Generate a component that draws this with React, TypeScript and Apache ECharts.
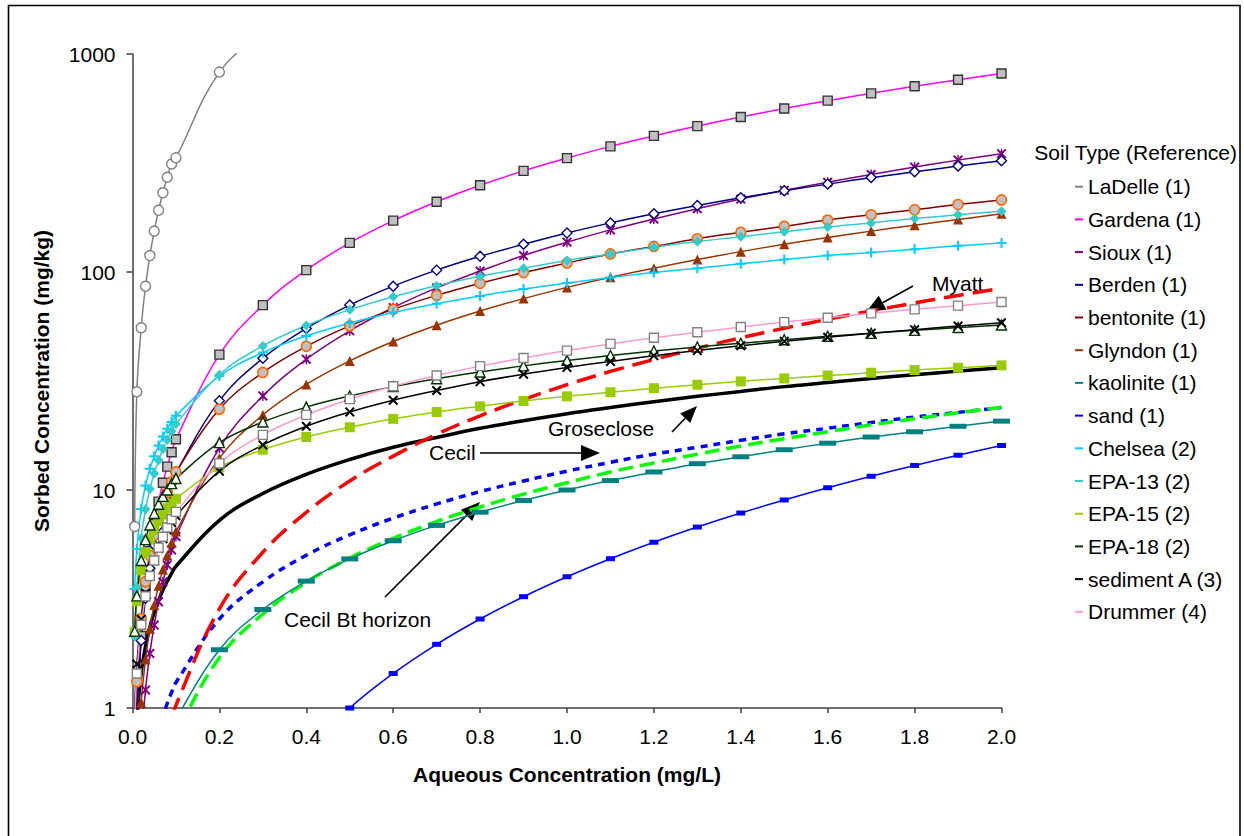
import { useEffect, useRef } from "react";
import * as echarts from "echarts";

const FONT = "'Liberation Sans', Arial, Helvetica, sans-serif";

// Aqueous concentrations (mg/L) at which each isotherm is plotted
const CONC = [
  0.005, 0.01, 0.02, 0.03, 0.04, 0.05, 0.06, 0.07, 0.08, 0.09, 0.1,
  0.2, 0.3, 0.4, 0.5, 0.6, 0.7, 0.8, 0.9, 1.0, 1.1, 1.2, 1.3, 1.4, 1.5, 1.6, 1.7, 1.8, 1.9, 2.0,
];

// Sorbed concentrations (mg/kg), one entry per CONC value (null = not plotted)
const LADELLE = [6.8, 28.2, 55.5, 86, 119, 154, 192, 231, 272, 313, 334, 826, 1250, 1800,
  null, null, null, null, null, null, null, null, null, null, null, null, null, null, null, null];
const GARDENA = [0.36, 0.88, 2.14, 3.61, 5.24, 6.98, 8.84, 10.8, 12.8, 14.9, 17.1,
  41.8, 70.5, 102, 136, 172, 210, 250, 291, 333, 377, 421, 467, 514, 562, 611, 660, 711, 762, 814];
const SIOUX = [0.11, 0.27, 0.7, 1.21, 1.78, 2.4, 3.07, 3.78, 4.53, 5.31, 6.12,
  15.6, 27.0, 39.8, 53.7, 68.7, 84.6, 101, 119, 137, 156, 175, 195, 216, 237, 258, 280, 303, 326, 349];
const BERDEN = [0.44, 0.95, 2.04, 3.19, 4.38, 5.6, 6.84, 8.1, 9.38, 10.7, 12.0,
  25.7, 40.2, 55.1, 70.5, 86.1, 102, 118, 134, 151, 168, 185, 202, 219, 236, 253, 271, 288, 306, 324];
const BENTONITE = [0.68, 1.32, 2.57, 3.8, 5.01, 6.2, 7.38, 8.56, 9.74, 10.9, 12.1,
  23.5, 34.6, 45.6, 56.6, 67.4, 78.1, 88.8, 99.4, 110, 121, 131, 142, 152, 162, 173, 183, 193, 204, 214];
const GLYNDON = [0.22, 0.49, 1.06, 1.67, 2.31, 2.97, 3.64, 4.32, 5.02, 5.73, 6.45,
  14.0, 22.1, 30.5, 39.1, 48.0, 57.0, 66.2, 75.5, 85, 94.6, 104, 114, 124, 134, 144, 154, 164, 174, 185];
const KAOLINITE = [null, null, null, null, null, 0.43, 0.52, 0.61, 0.71, 0.8, 0.89,
  1.85, 2.83, 3.82, 4.83, 5.85, 6.88, 7.91, 8.95, 10.0, 11.05, 12.1, 13.2, 14.2, 15.3, 16.4, 17.5, 18.5, 19.6, 20.7];
const SAND = [null, null, null, null, null, null, null, null, null, null, null,
  0.16, 0.36, 0.64, 1.0, 1.44, 1.96, 2.56, 3.24, 4.0, 4.84, 5.76, 6.76, 7.84, 9.0, 10.24, 11.56, 12.96, 14.44, 16.0];
const CHELSEA = [3.51, 5.36, 8.19, 10.5, 12.5, 14.3, 16.0, 17.6, 19.1, 20.5, 21.9,
  33.3, 42.7, 50.9, 58.3, 65.2, 71.6, 77.7, 83.5, 89, 94.3, 99.5, 104, 109, 114, 119, 123, 127, 132, 136];
const EPA13 = [2.13, 3.57, 6.01, 8.15, 10.1, 11.9, 13.7, 15.4, 17.0, 18.6, 20.1,
  33.8, 45.8, 56.8, 67.2, 77.0, 86.5, 95.6, 104, 113, 121, 130, 138, 145, 153, 161, 168, 176, 183, 190];
const EPA15 = [2.23, 3.09, 4.28, 5.18, 5.93, 6.58, 7.17, 7.71, 8.21, 8.68, 9.12,
  12.7, 15.3, 17.5, 19.4, 21.2, 22.8, 24.2, 25.6, 26.9, 28.1, 29.3, 30.4, 31.5, 32.5, 33.5, 34.5, 35.5, 36.4, 37.3];
const EPA18 = [2.25, 3.27, 4.75, 5.92, 6.91, 7.8, 8.6, 9.35, 10.0, 10.7, 11.3,
  16.5, 20.5, 24.0, 27.0, 29.8, 32.4, 34.8, 37.1, 39.3, 41.4, 43.4, 45.3, 47.1, 48.9, 50.7, 52.3, 54.0, 55.6, 57.1];
const SEDIMENT_A = [0.99, 1.59, 2.55, 3.36, 4.09, 4.76, 5.39, 5.98, 6.55, 7.1, 7.62,
  12.2, 16.1, 19.6, 22.8, 25.8, 28.6, 31.4, 34.0, 36.5, 38.9, 41.3, 43.6, 45.9, 48.1, 50.2, 52.4, 54.4, 56.5, 58.5];
const DRUMMER = [0.86, 1.44, 2.41, 3.25, 4.03, 4.75, 5.44, 6.1, 6.73, 7.34, 7.94,
  13.25, 17.9, 22.1, 26.1, 29.9, 33.5, 37.0, 40.3, 43.6, 46.8, 49.9, 52.9, 55.9, 58.9, 61.7, 64.6, 67.4, 70.1, 72.8];

// Site isotherms drawn as plain curves
const MYATT = [null, null, null, null, null, 0.37, 0.49, 0.61, 0.74, 0.88, 1.03,
  2.85, 5.18, 7.9, 11.0, 14.3, 18.0, 21.9, 26.0, 30.4, 35.0, 39.7, 44.7, 49.9, 55.2, 60.7, 66.3, 72.1, 78.1, 84.2];
const GROSECLOSE = [0.55, 0.89, 1.45, 1.92, 2.35, 2.75, 3.12, 3.48, 3.82, 4.15, 4.47,
  7.26, 9.64, 11.8, 13.8, 15.7, 17.4, 19.2, 20.8, 22.4, 23.9, 25.4, 26.9, 28.3, 29.8, 31.1, 32.5, 33.8, 35.1, 36.4];
const CECIL = [null, null, null, null, null, 0.67, 0.8, 0.92, 1.05, 1.18, 1.31,
  2.56, 3.79, 5.02, 6.23, 7.43, 8.63, 9.83, 11.0, 12.2, 13.4, 14.6, 15.7, 16.9, 18.1, 19.2, 20.4, 21.6, 22.7, 23.9];
const CECIL_BT = [null, null, null, null, null, 0.34, 0.42, 0.51, 0.59, 0.68, 0.76,
  1.7, 2.7, 3.77, 4.87, 6.0, 7.17, 8.36, 9.57, 10.8, 12.1, 13.3, 14.6, 15.9, 17.2, 18.5, 19.9, 21.2, 22.6, 24.0];

const Y_TICKS = [1, 10, 100, 1000];

// marker outlines
const PLUS = "path://M4,0H6V4H10V6H6V10H4V6H0V4H4Z";
const CROSS = "path://M1.4,0L5,3.6L8.6,0L10,1.4L6.4,5L10,8.6L8.6,10L5,6.4L1.4,10L0,8.6L3.6,5L0,1.4Z";
const STAR = "path://M1.4,0L5,3.6L8.6,0L10,1.4L6.4,5L10,8.6L8.6,10L5,6.4L1.4,10L0,8.6L3.6,5L0,1.4Z M4.3,0H5.7V10H4.3Z";

type Soil = {
  name: string;
  values: (number | null)[];
  color: string;
  symbol: string;
  size: number | number[];
  fill: string;
  border?: string;
  bw?: number;
};

const SOILS: Soil[] = [
  { name: "LaDelle (1)", values: LADELLE, color: "#808080", symbol: "circle", size: 10, fill: "#ffffff", border: "#808080", bw: 1.4 },
  { name: "Gardena (1)", values: GARDENA, color: "#FF00FF", symbol: "rect", size: 9, fill: "#C0C0C0", border: "#333333", bw: 1.4 },
  { name: "Sioux (1)", values: SIOUX, color: "#800080", symbol: STAR, size: 10, fill: "#800080" },
  { name: "Berden (1)", values: BERDEN, color: "#000080", symbol: "diamond", size: 10, fill: "#ffffff", border: "#000080", bw: 1.4 },
  { name: "bentonite (1)", values: BENTONITE, color: "#800000", symbol: "circle", size: 10, fill: "#C0C0C0", border: "#FF6600", bw: 1.6 },
  { name: "Glyndon (1)", values: GLYNDON, color: "#993300", symbol: "triangle", size: 10, fill: "#993300" },
  { name: "kaolinite (1)", values: KAOLINITE, color: "#008080", symbol: "rect", size: [17, 5], fill: "#008080" },
  { name: "sand (1)", values: SAND, color: "#0000FF", symbol: "rect", size: [9, 5], fill: "#0000FF" },
  { name: "Chelsea (2)", values: CHELSEA, color: "#00CCFF", symbol: PLUS, size: 10, fill: "#00CCFF" },
  { name: "EPA-13 (2)", values: EPA13, color: "#33CCCC", symbol: "diamond", size: 10, fill: "#33CCCC" },
  { name: "EPA-15 (2)", values: EPA15, color: "#99CC00", symbol: "rect", size: 10, fill: "#99CC00" },
  { name: "EPA-18 (2)", values: EPA18, color: "#003300", symbol: "triangle", size: 10, fill: "#ffffff", border: "#003300", bw: 1.4 },
  { name: "sediment A (3)", values: SEDIMENT_A, color: "#000000", symbol: CROSS, size: 10, fill: "#000000" },
  { name: "Drummer (4)", values: DRUMMER, color: "#FF99CC", symbol: "rect", size: 9, fill: "#ffffff", border: "#808080", bw: 1.4 },
];

type Site = { name: string; values: (number | null)[]; color: string; dash: number[] | "solid" };

const SITES: Site[] = [
  { name: "Groseclose", values: GROSECLOSE, color: "#000000", dash: "solid" },
  { name: "Cecil", values: CECIL, color: "#0000FF", dash: [7, 6] },
  { name: "Cecil Bt horizon", values: CECIL_BT, color: "#00FF00", dash: [15, 7] },
  { name: "Myatt", values: MYATT, color: "#FF0000", dash: [20, 9] },
];

const pairs = (vals: (number | null)[]) =>
  CONC.map((x, i) => (vals[i] == null ? null : [x, vals[i] as number])).filter(
    (p): p is number[] => p !== null
  );

const label = (text: string, x: number, y: number, align = "left") => ({
  type: "text",
  x,
  y,
  silent: true,
  style: {
    text,
    fill: "#000",
    fontSize: 21,
    fontFamily: FONT,
    align,
    verticalAlign: "middle",
  },
});

const arrow = (x1: number, y1: number, x2: number, y2: number, head = 15, half = 6) => {
  const dx = x2 - x1;
  const dy = y2 - y1;
  const len = Math.hypot(dx, dy);
  const ux = dx / len;
  const uy = dy / len;
  const bx = x2 - ux * head;
  const by = y2 - uy * head;
  return [
    {
      type: "line",
      silent: true,
      shape: { x1, y1, x2: bx, y2: by },
      style: { stroke: "#000", lineWidth: 1.6 },
    },
    {
      type: "polygon",
      silent: true,
      shape: {
        points: [
          [x2, y2],
          [bx - uy * half, by + ux * half],
          [bx + uy * half, by - ux * half],
        ],
      },
      style: { fill: "#000" },
    },
  ];
};

export default function App() {
  const ref = useRef<HTMLDivElement>(null);

  useEffect(() => {
    if (!ref.current) return;
    const chart = echarts.init(ref.current, undefined, { renderer: "svg" });

    const siteSeries = SITES.map((s) => ({
      name: s.name,
      type: "line",
      data: pairs(s.values),
      smooth: 0.4,
      symbol: "none",
      clip: true,
      silent: true,
      lineStyle: { color: s.color, width: 3.5, type: s.dash },
      itemStyle: { color: s.color },
      emphasis: { disabled: true },
    }));

    const soilSeries = SOILS.map((s) => ({
      name: s.name,
      type: "line",
      data: pairs(s.values),
      smooth: 0.4,
      symbol: s.symbol,
      symbolSize: s.size,
      showAllSymbol: true,
      clip: true,
      silent: true,
      lineStyle: { color: s.color, width: 1.5 },
      itemStyle: { color: s.fill, borderColor: s.border ?? s.fill, borderWidth: s.bw ?? 0 },
      emphasis: { disabled: true },
    }));

    chart.setOption({
      animation: false,
      backgroundColor: "#ffffff",
      textStyle: { fontFamily: FONT },
      grid: { left: 132.5, right: 242.5, top: 54, bottom: 128, containLabel: false },
      xAxis: {
        type: "value",
        min: 0,
        max: 2,
        interval: 0.2,
        name: "Aqueous Concentration (mg/L)",
        nameLocation: "middle",
        nameGap: 56,
        nameTextStyle: { fontSize: 21, fontWeight: "bold", fontFamily: FONT, color: "#000" },
        axisLine: { show: true, lineStyle: { color: "#404040", width: 1.5 } },
        axisTick: { show: true, length: 5, lineStyle: { color: "#404040", width: 1.5 } },
        axisLabel: {
          margin: 18,
          fontSize: 21,
          fontFamily: FONT,
          color: "#000",
          formatter: (v: number) => v.toFixed(1),
        },
        splitLine: { show: false },
      },
      yAxis: {
        type: "log",
        logBase: 10,
        min: Y_TICKS[0],
        max: Y_TICKS[Y_TICKS.length - 1],
        name: "Sorbed Concentration (mg/kg)",
        nameLocation: "middle",
        nameGap: 81,
        nameTextStyle: { fontSize: 21, fontWeight: "bold", fontFamily: FONT, color: "#000" },
        axisLine: { show: true, lineStyle: { color: "#404040", width: 1.5 } },
        axisTick: { show: true, length: 6, lineStyle: { color: "#404040", width: 1.5 } },
        axisLabel: {
          margin: 17,
          fontSize: 21,
          fontFamily: FONT,
          color: "#000",
          formatter: (v: number) => String(Math.round(v)),
        },
        splitLine: { show: false },
        minorTick: { show: false },
      },
      legend: {
        orient: "vertical",
        left: 1075,
        top: 174.7,
        padding: 0,
        itemWidth: 8,
        itemHeight: 2,
        itemGap: 8.7,
        icon: "rect",
        selectedMode: false,
        itemStyle: { borderWidth: 0 },
        textStyle: { fontSize: 21, fontFamily: FONT, color: "#000", lineHeight: 24 },
        data: SOILS.map((s) => ({ name: s.name, itemStyle: { color: s.color, borderWidth: 0 } })),
      },
      graphic: [
        {
          type: "rect",
          silent: true,
          shape: { x: 8.5, y: 5.5, width: 1231.5, height: 850 },
          style: { fill: "none", stroke: "#000", lineWidth: 1.6 },
        },
        label("Soil Type (Reference)", 1237, 152, "right"),
        label("Myatt", 932, 283),
        ...arrow(913, 286, 866, 312, 19, 8),
        label("Groseclose", 548, 428),
        ...arrow(672, 432, 697, 406, 17, 7),
        label("Cecil", 429, 452),
        ...arrow(480, 453, 600, 453, 19, 8),
        label("Cecil Bt horizon", 284, 619),
        ...arrow(385, 597, 480, 502, 19, 8),
      ],
      series: [...siteSeries, ...soilSeries],
    });

    return () => chart.dispose();
  }, []);

  return (
    <div
      ref={ref}
      style={{ position: "fixed", left: 0, top: 0, width: 1244, height: 836, background: "#fff" }}
    />
  );
}
